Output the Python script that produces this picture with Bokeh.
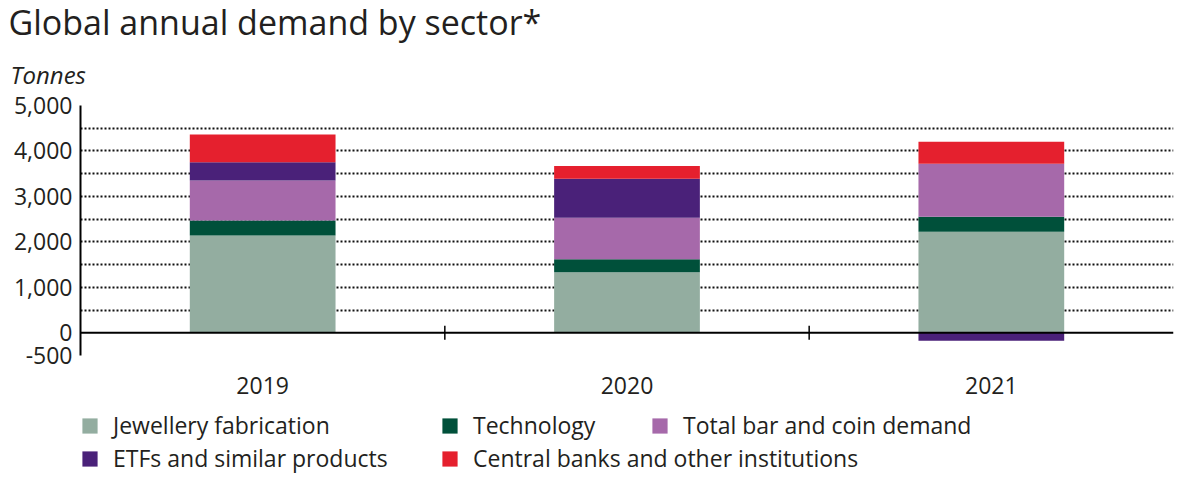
from bokeh.plotting import figure
from bokeh.layouts import column
from bokeh.models import (ColumnDataSource, FactorRange, FixedTicker, NumeralTickFormatter,
                          Span, Title, Legend, LegendItem, Range1d)
from bokeh.embed import file_html
from bokeh.resources import INLINE
import math

# ---- data (tonnes) ----
years = ["2019", "2020", "2021"]
jewellery = [2140, 1330, 2220]
technology = [330, 290, 330]
bar_coin = [880, 910, 1170]
etfs = [400, 860, -175]
central_banks = [610, 280, 480]

series_names = ["Jewellery fabrication", "Technology", "Total bar and coin demand",
                "ETFs and similar products", "Central banks and other institutions"]
series_values = [jewellery, technology, bar_coin, etfs, central_banks]
colors = ["#93ada0", "#00503a", "#a669aa", "#4a2179", "#e5202e"]
y_tick_values = [-500, 0, 1000, 2000, 3000, 4000, 5000]
y_grid_values = [-500, 500, 1000, 1500, 2000, 2500, 3000, 3500, 4000, 4500, 5000]

title_text = "Global annual demand by sector*"
unit_text = "Tonnes"

FONT = "Open Sans"
TXT = "#231f20"
LEFT, RIGHT = 80, 11

# ---- main chart ----
p = figure(x_range=FactorRange(factors=years), y_range=(-500, 5000),
           frame_width=1093, frame_height=250,
           min_border_left=LEFT, min_border_top=105, min_border_bottom=50,
           min_border_right=RIGHT,
           output_backend="svg", toolbar_location=None, title_location=None)
p.outline_line_color = None

p.add_layout(Title(text=unit_text, align="left", offset=-70, text_font=FONT,
                   text_font_style="italic", text_font_size="24px", text_color=TXT,
                   standoff=30), "above")
p.add_layout(Title(text=title_text, align="left", offset=-72, text_font=FONT,
                   text_font_style="normal", text_font_size="34px", text_color=TXT,
                   standoff=-8), "above")

pos_base = [0] * len(years)
neg_base = [0] * len(years)
for name, vals, col in zip(series_names, series_values, colors):
    bottoms, tops = [], []
    for i, v in enumerate(vals):
        if v >= 0:
            bottoms.append(pos_base[i]); tops.append(pos_base[i] + v); pos_base[i] += v
        else:
            tops.append(neg_base[i]); bottoms.append(neg_base[i] + v); neg_base[i] += v
    src = ColumnDataSource(dict(x=years, bottom=bottoms, top=tops))
    p.vbar(x="x", bottom="bottom", top="top", width=0.4, source=src,
           fill_color=col, line_color=None)

p.add_layout(Span(location=0, dimension="width", line_color="black", line_width=2))
sep_x = [i for i in range(1, len(years))]
p.scatter(x=sep_x, y=[0] * len(sep_x), marker="dash", angle=math.pi / 2, size=14,
          line_color="black", line_width=1.5)

p.xgrid.grid_line_color = None
p.ygrid.ticker = FixedTicker(ticks=y_grid_values)
p.ygrid.grid_line_color = "#111111"
p.ygrid.grid_line_width = 2
p.ygrid.grid_line_dash = "2 2"

p.yaxis.ticker = FixedTicker(ticks=y_tick_values)
p.yaxis.formatter = NumeralTickFormatter(format="0,0")
p.yaxis.major_tick_in = 0
p.yaxis.major_tick_out = 0
p.yaxis.minor_tick_line_color = None
p.yaxis.axis_line_width = 2
p.yaxis.axis_line_color = "black"
p.yaxis.major_label_standoff = 8
p.yaxis.major_label_text_font = FONT
p.yaxis.major_label_text_font_size = "23px"
p.yaxis.major_label_text_color = TXT

p.xaxis.axis_line_color = None
p.xaxis.major_tick_line_color = None
p.xaxis.minor_tick_line_color = None
p.xaxis.major_label_standoff = 15
p.xaxis.major_label_text_font = FONT
p.xaxis.major_label_text_font_size = "23px"
p.xaxis.major_label_text_color = TXT

# ---- legend strip ----
LEG_H = 75
leg = figure(frame_width=1093, height=LEG_H, x_range=Range1d(0, 1093), y_range=Range1d(0, LEG_H),
             min_border_left=LEFT, min_border_right=RIGHT, min_border_top=0, min_border_bottom=0,
             output_backend="svg", toolbar_location=None, title_location=None)
leg.outline_line_color = None
leg.xaxis.visible = False
leg.yaxis.visible = False
leg.xgrid.visible = False
leg.ygrid.visible = False
swatches = []
for col in colors:
    swatches.append(leg.vbar(x=[-5000], bottom=[-5000], top=[-4999], width=1,
                             fill_color=col, line_color=None))


def make_legend(idx, x, y):
    lg = Legend(items=[LegendItem(label=series_names[i], renderers=[swatches[i]]) for i in idx],
                location=(x, y), orientation="vertical",
                glyph_width=19, glyph_height=19, label_standoff=14, spacing=1,
                padding=0, margin=0, border_line_alpha=0, background_fill_alpha=0,
                label_text_font=FONT, label_text_font_size="23px", label_text_color=TXT,
                label_height=19)
    leg.add_layout(lg)


make_legend([0, 3], 0, 6)
make_legend([1, 4], 360, 6)
make_legend([2], 570, 39)

layout = column(p, leg)
open("out.html", "w").write(file_html(layout, INLINE))
